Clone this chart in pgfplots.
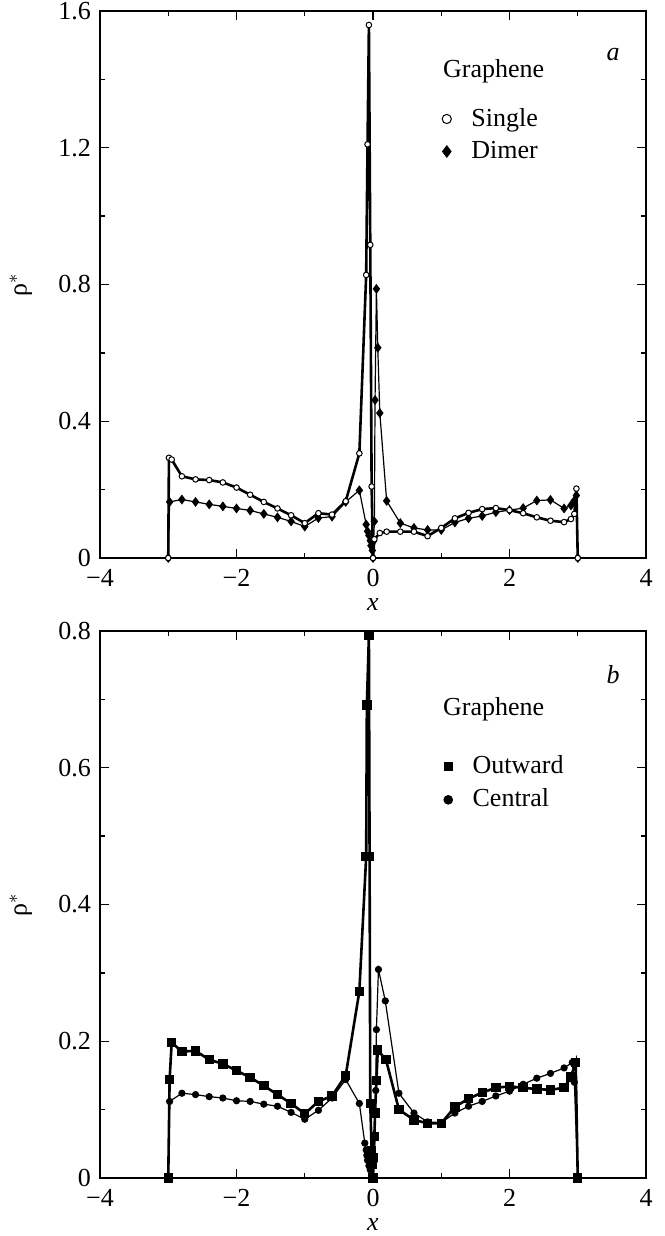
\documentclass[border=0pt]{standalone}
\usepackage{fontspec}
\setmainfont{Liberation Serif}
\usepackage{pgfplots}
\pgfplotsset{compat=1.18}

\pgfplotsset{
  panel/.style={
    scale only axis, width=273pt, height=273.5pt,
    xmin=-4, xmax=4,
    xtick={-4,-2,0,2,4}, xticklabels={−4,−2,0,2,4},
    minor x tick num=1, minor y tick num=1,
    tick align=inside,
    major tick length=4.5pt, minor tick length=2.5pt,
    axis line style={line width=1pt},
    every tick/.style={line width=0.7pt, black},
    xticklabel style={yshift=-1pt},
    xlabel={\textit{x}},
    xlabel style={at={(axis description cs:0.5,-0.085)}, anchor=center, inner sep=0pt},
    ylabel={ρ$^{*}$},
    ylabel style={at={(axis description cs:-0.145,0.5)}, anchor=center},
    legend style={draw=none, fill=none, legend cell align=left,
      row sep=1.5pt, column sep=8pt},
  },
  thick line/.style={black, line width=1.3pt},
  thin line/.style={black, line width=0.6pt},
}

\begin{document}
\fontsize{13}{16}\selectfont
\begin{tikzpicture}

% panel a
\begin{axis}[panel, name=top,
  ymin=0, ymax=1.6,
  ytick={0,0.4,0.8,1.2,1.6}, yticklabels={0,0.4,0.8,1.2,1.6},
  legend style={at={(axis description cs:0.615,0.838)}, anchor=north west},
]
\addlegendimage{only marks, mark=*, mark size=2.3pt, mark options={fill=white, line width=0.5pt}}
\addlegendentry{Single}
\addlegendimage{only marks, mark=diamond*, mark size=2.9pt, fill=black}
\addlegendentry{Dimer}

% Dimer
\addplot[thin line, forget plot, mark=diamond*, mark size=2pt, mark options={fill=black}] coordinates {
(-3.0,0) (-2.98,0.164) (-2.8,0.171) (-2.6,0.164) (-2.4,0.157) (-2.2,0.151)
(-2.0,0.145) (-1.8,0.139) (-1.6,0.129) (-1.4,0.119) (-1.2,0.107) (-1.0,0.092)
(-0.8,0.117) (-0.6,0.121) (-0.4,0.164) (-0.2,0.198) (-0.1,0.098) (-0.08,0.078)
(-0.06,0.066) (-0.04,0.051) (-0.03,0.036) (-0.01,0.022) (0,0) (0.01,0.05)
(0.02,0.107) (0.03,0.462) (0.05,0.787) (0.07,0.615) (0.1,0.424) (0.2,0.167)
(0.4,0.102) (0.6,0.088) (0.8,0.082) (1.0,0.082) (1.2,0.104) (1.4,0.116)
(1.6,0.123) (1.8,0.134) (2.0,0.140) (2.2,0.146) (2.4,0.168) (2.6,0.170)
(2.8,0.145) (2.9,0.154) (2.95,0.168) (2.98,0.183) (3.0,0)
};
% Single
\addplot[thick line, forget plot, mark=*, mark size=1.4pt, mark options={fill=white, line width=0.5pt}] coordinates {
(-3.0,0) (-2.99,0.293) (-2.95,0.288) (-2.8,0.239) (-2.6,0.230) (-2.4,0.228)
(-2.2,0.221) (-2.0,0.206) (-1.8,0.185) (-1.6,0.164) (-1.4,0.145) (-1.2,0.125)
(-1.0,0.102) (-0.8,0.131) (-0.6,0.127) (-0.4,0.166) (-0.2,0.306) (-0.1,0.828)
(-0.08,1.21) (-0.06,1.559) (-0.04,0.916) (-0.02,0.209) (0,0) (0.02,0.055)
(0.1,0.073) (0.2,0.077) (0.4,0.077) (0.6,0.077) (0.8,0.064) (1.0,0.088)
(1.2,0.116) (1.4,0.132) (1.6,0.143) (1.8,0.146) (2.0,0.140) (2.2,0.131)
(2.4,0.119) (2.6,0.109) (2.8,0.105) (2.9,0.114) (2.95,0.129) (2.98,0.203)
(3.0,0)
};
\node[anchor=base west] at (axis description cs:0.612,0.879) {Graphene};
\node[anchor=center] at (axis description cs:0.94,0.92) {\textit{a}};
\end{axis}

% panel b
\begin{axis}[panel, at={(0pt,-310pt)}, anchor=south west,
  ymin=0, ymax=0.8,
  ytick={0,0.2,0.4,0.6,0.8}, yticklabels={0,0.2,0.4,0.6,0.8},
  legend style={at={(axis description cs:0.618,0.787)}, anchor=north west},
]
\addlegendimage{only marks, mark=square*, mark size=2pt, fill=black}
\addlegendentry{Outward}
\addlegendimage{only marks, mark=*, mark size=2.2pt, fill=black}
\addlegendentry{Central}

% Central
\addplot[thin line, forget plot, mark=*, mark size=1.5pt, mark options={fill=black}] coordinates {
(-3.0,0) (-2.98,0.112) (-2.8,0.124) (-2.6,0.122) (-2.4,0.119) (-2.2,0.117)
(-2.0,0.113) (-1.8,0.112) (-1.6,0.108) (-1.4,0.105) (-1.2,0.096) (-1.0,0.086)
(-0.8,0.099) (-0.6,0.117) (-0.4,0.144) (-0.2,0.109) (-0.12,0.051) (-0.1,0.041)
(-0.09,0.033) (-0.08,0.026) (-0.06,0.018) (-0.04,0.012) (0,0) (0.01,0.023)
(0.03,0.06) (0.04,0.128) (0.05,0.217) (0.08,0.305) (0.18,0.259) (0.38,0.124)
(0.6,0.095) (0.8,0.082) (1.0,0.081) (1.2,0.095) (1.4,0.105) (1.6,0.112)
(1.8,0.120) (2.0,0.127) (2.2,0.137) (2.4,0.146) (2.6,0.153) (2.8,0.161)
(2.92,0.169) (2.95,0.140) (3.0,0)
};
% Outward
\addplot[thick line, forget plot, mark=square*, mark size=1.7pt, mark options={fill=black}] coordinates {
(-3.0,0) (-2.98,0.144) (-2.95,0.198) (-2.8,0.185) (-2.6,0.186) (-2.4,0.173)
(-2.2,0.167) (-2.0,0.157) (-1.8,0.147) (-1.6,0.135) (-1.4,0.122) (-1.2,0.109)
(-1.0,0.094) (-0.8,0.112) (-0.6,0.120) (-0.4,0.150) (-0.2,0.273) (-0.1,0.470)
(-0.09,0.692) (-0.06,0.794) (-0.05,0.470) (-0.04,0.109) (-0.02,0.04)
(-0.01,0.02) (0,0) (0.01,0.03) (0.02,0.061) (0.03,0.095) (0.05,0.143)
(0.07,0.187) (0.19,0.173) (0.38,0.100) (0.6,0.085) (0.8,0.080) (1.0,0.080)
(1.2,0.104) (1.4,0.116) (1.6,0.125) (1.8,0.132) (2.0,0.134) (2.2,0.132)
(2.4,0.130) (2.6,0.129) (2.8,0.132) (2.9,0.148) (2.97,0.169) (3.0,0)
};
\node[anchor=base west] at (axis description cs:0.612,0.845) {Graphene};
\node[anchor=center] at (axis description cs:0.94,0.92) {\textit{b}};
\end{axis}

\pgfresetboundingbox
\path (-50pt,-339pt) rectangle (282pt,279pt);
\end{tikzpicture}
\end{document}
